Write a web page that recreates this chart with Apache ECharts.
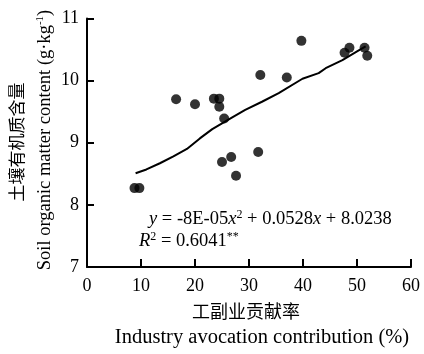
<!DOCTYPE html>
<html>
<head>
<meta charset="utf-8">
<script src="https://cdn.jsdelivr.net/npm/echarts@6/dist/echarts.min.js"></script>
<style>
  html, body { margin: 0; padding: 0; background: #fff; }
  #main { width: 424px; height: 354px; }
</style>
</head>
<body>
<div id="main"></div>
<script>
// scatter points
const contribution = [8.8, 9.7, 16.5, 20.0, 23.5, 24.5, 24.5, 25.4, 25.0, 26.7, 27.6, 31.7, 32.1, 37.0, 39.7, 47.7, 48.6, 51.4, 51.9];
const organicMatter = [8.27, 8.27, 9.70, 9.62, 9.71, 9.71, 9.58, 9.39, 8.69, 8.77, 8.47, 8.85, 10.09, 10.05, 10.64, 10.45, 10.53, 10.53, 10.40];

// trend line
const trendX = [9.0, 11.0, 13.5, 16.0, 18.5, 20.9, 23.2, 26.9, 29.3, 32.4, 35.5, 39.9, 42.9, 44.2, 47.3, 50.4, 51.6];
const trendY = [8.51, 8.57, 8.67, 8.78, 8.90, 9.07, 9.22, 9.41, 9.53, 9.66, 9.80, 10.03, 10.12, 10.20, 10.33, 10.49, 10.55];

const xTicks = [0, 60, 10];
const yTicks = [7, 11, 1];

const serif = "'Liberation Serif', 'Times New Roman', 'Noto Sans CJK SC', serif";
const cjk = "'Noto Sans CJK SC', sans-serif";

let points = contribution.map((v, i) => [v, organicMatter[i]]);
let trend = trendX.map((v, i) => [v, trendY[i]]);

let chart = echarts.init(document.getElementById('main'), null, { renderer: 'canvas' });

let option = {
  backgroundColor: '#fff',
  animation: false,
  grid: { left: 87, right: 13, top: 18.5, bottom: 87 },
  xAxis: {
    type: 'value',
    min: xTicks[0], max: xTicks[1], interval: xTicks[2],
    axisLine: { lineStyle: { color: '#000', width: 2 } },
    axisTick: { inside: true, length: 8, lineStyle: { color: '#000', width: 2 } },
    axisLabel: { color: '#000', fontFamily: serif, fontSize: 18, margin: 10 },
    splitLine: { show: false }
  },
  yAxis: {
    type: 'value',
    min: yTicks[0], max: yTicks[1], interval: yTicks[2],
    axisLine: { show: true, lineStyle: { color: '#000', width: 2 } },
    axisTick: { show: true, inside: true, length: 7, lineStyle: { color: '#000', width: 2 } },
    axisLabel: { color: '#000', fontFamily: serif, fontSize: 18, margin: 8 },
    splitLine: { show: false }
  },
  series: [
    {
      type: 'scatter',
      data: points,
      symbolSize: 10,
      itemStyle: { color: '#000' }
    },
    {
      type: 'line',
      data: trend,
      showSymbol: false,
      lineStyle: { color: '#000', width: 2 }
    }
  ],
  graphic: [
    {
      type: 'text', x: 17, y: 142, rotation: Math.PI / 2,
      style: { text: '土壤有机质含量', font: '17px ' + cjk, fill: '#000', textAlign: 'center', textVerticalAlign: 'middle' }
    },
    {
      type: 'text', x: 45, y: 140, rotation: Math.PI / 2,
      style: {
        text: '{a|Soil organic matter content (g·kg}{s|-1}{a|)}',
        fill: '#000', textAlign: 'center', textVerticalAlign: 'middle',
        rich: {
          a: { fontFamily: serif, fontSize: 18.5, lineHeight: 20 },
          s: { fontFamily: serif, fontSize: 11, verticalAlign: 'top', lineHeight: 20 }
        }
      }
    },
    {
      type: 'text', x: 246, y: 311,
      style: { text: '工副业贡献率', font: '18px ' + cjk, fill: '#000', textAlign: 'center', textVerticalAlign: 'middle' }
    },
    {
      type: 'text', x: 262, y: 338,
      style: { text: 'Industry avocation contribution (%)', font: '20.5px ' + serif, fill: '#000', textAlign: 'center', textVerticalAlign: 'middle' }
    },
    {
      type: 'text', x: 149, y: 219,
      style: {
        text: '{i|y}{n| = -8E-05}{i|x}{s|2}{n| + 0.0528}{i|x}{n| + 8.0238}',
        fill: '#000', textAlign: 'left', textVerticalAlign: 'middle',
        rich: {
          n: { fontFamily: serif, fontSize: 18.5, lineHeight: 21 },
          i: { fontFamily: serif, fontSize: 18.5, fontStyle: 'italic', lineHeight: 21 },
          s: { fontFamily: serif, fontSize: 12, verticalAlign: 'top', lineHeight: 21 }
        }
      }
    },
    {
      type: 'text', x: 139, y: 241,
      style: {
        text: '{i|R}{s|2}{n| = 0.6041}{s|**}',
        fill: '#000', textAlign: 'left', textVerticalAlign: 'middle',
        rich: {
          n: { fontFamily: serif, fontSize: 18.5, lineHeight: 21 },
          i: { fontFamily: serif, fontSize: 18.5, fontStyle: 'italic', lineHeight: 21 },
          s: { fontFamily: serif, fontSize: 12, verticalAlign: 'top', lineHeight: 21 }
        }
      }
    }
  ]
};

chart.setOption(option);
window.onresize = chart.resize;
</script>
</body>
</html>
